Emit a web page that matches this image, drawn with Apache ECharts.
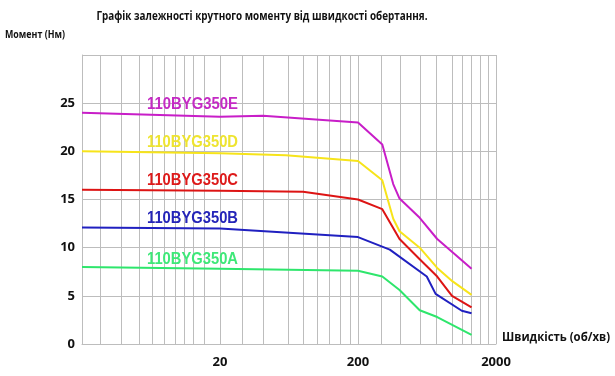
<!DOCTYPE html>
<html>
<head>
<meta charset="utf-8">
<script src="https://cdn.jsdelivr.net/npm/echarts@6/dist/echarts.min.js"></script>
<style>html,body{margin:0;padding:0;background:#fff}#c{width:615px;height:376px}</style>
</head>
<body>
<div id="c"></div>
<script>
// ---- data ----
var titleText = 'Графік залежності крутного моменту від швидкості обертання.';
var yName = 'Момент (Нм)';
var xName = 'Швидкість (об/хв)';
var xTickLabels = [20, 200, 2000];
var yTicks = [0, 5, 10, 15, 20, 25];

var namesSeries = ['110BYG350E', '110BYG350D', '110BYG350C', '110BYG350B', '110BYG350A'];

var speedE = [2, 20, 41, 200, 300, 360, 400, 560, 750, 1330];
var torqueE = [24.0, 23.6, 23.7, 23.0, 20.7, 16.6, 15.1, 13.1, 10.9, 7.8];

var speedD = [2, 20, 60, 200, 300, 360, 400, 560, 750, 970, 1330];
var torqueD = [20.0, 19.8, 19.6, 19.0, 17.0, 13.0, 11.7, 10.0, 7.9, 6.5, 5.1];

var speedC = [2, 20, 80, 200, 300, 400, 560, 750, 960, 1330];
var torqueC = [16.0, 15.9, 15.8, 15.0, 14.0, 10.9, 8.8, 7.0, 5.0, 3.8];

var speedB = [2, 20, 200, 340, 630, 730, 1130, 1330];
var torqueB = [12.1, 12.0, 11.1, 9.8, 7.0, 5.2, 3.45, 3.2];

var speedA = [2, 20, 200, 300, 400, 560, 750, 1330];
var torqueA = [8.0, 7.8, 7.6, 7.0, 5.6, 3.5, 2.8, 0.95];

// vertical grid lines (log paper)
var gridX = [2.73, 3.88, 5.18, 6.51, 7.9, 9.44, 11, 12.8, 15.3, 20,
             29, 41.2, 62.5, 80.3, 102, 124, 148, 175, 200,
             297, 408, 563, 743, 964, 1148, 1333, 1531, 1759, 2000];

// ---- styles ----
var lineColors = ['#c81ec8', '#f7e41a', '#dd1414', '#2020c0', '#2ee66c'];
var labelColors = ['#c42ac4', '#eee430', '#dd1a1a', '#2424b8', '#3ee878'];
var labelCenters = [104.5, 142.5, 180.5, 218.5, 259];

function zip(a, b) { return a.map(function (v, i) { return [v, b[i]]; }); }

var measureCtx = document.createElement('canvas').getContext('2d');
function fitText(text, font, width) {
  measureCtx.font = font;
  return width / measureCtx.measureText(text).width;
}

var chart = echarts.init(document.getElementById('c'), null, {renderer: 'canvas'});

var seriesData = [
  zip(speedE, torqueE), zip(speedD, torqueD), zip(speedC, torqueC),
  zip(speedB, torqueB), zip(speedA, torqueA)
];

var series = [{
  type: 'line',
  data: [],
  z: 1,
  silent: true,
  markLine: {
    silent: true,
    z: 1,
    symbol: ['none', 'none'],
    label: {show: false},
    animation: false,
    lineStyle: {color: '#bdbdbd', width: 1, type: 'solid'},
    data: gridX.map(function (v) { return {xAxis: v}; })
  }
}];
seriesData.forEach(function (d, i) {
  series.push({
    type: 'line',
    name: namesSeries[i],
    data: d,
    z: 3,
    symbol: 'none',
    lineStyle: {color: lineColors[i], width: 2},
    itemStyle: {color: lineColors[i]}
  });
});

var labelFont = 'bold 17px "Liberation Sans"';
var graphics = [];
var tFont = 'bold 13px "Open Sans"';
graphics.push({type: 'text', x: 262, y: 16, scaleX: fitText(titleText, tFont, 331),
  style: {text: titleText, font: tFont, fill: '#111', textAlign: 'center', textVerticalAlign: 'middle'}});
var yFont = 'bold 11px "Open Sans"';
graphics.push({type: 'text', x: 5, y: 35, scaleX: fitText(yName, yFont, 60),
  style: {text: yName, font: yFont, fill: '#111', textAlign: 'left', textVerticalAlign: 'middle'}});
var xFont = 'bold 12px "Open Sans"';
graphics.push({type: 'text', x: 502, y: 337.5, scaleX: fitText(xName, xFont, 108),
  style: {text: xName, font: xFont, fill: '#111', textAlign: 'left', textVerticalAlign: 'middle'}});
namesSeries.forEach(function (n, i) {
  graphics.push({type: 'text', x: 147, y: labelCenters[i], z: 10, scaleX: fitText(n, labelFont, 91),
    style: {text: n, font: labelFont, fill: labelColors[i], textAlign: 'left', textVerticalAlign: 'middle'}});
});

chart.setOption({
  animation: false,
  backgroundColor: '#fff',
  grid: {left: 82, right: 119, top: 55, bottom: 32, containLabel: false},
  xAxis: {
    type: 'log',
    logBase: 10,
    min: 2,
    max: 2000,
    axisLine: {show: true, lineStyle: {color: '#bdbdbd', width: 1}},
    axisTick: {show: false},
    splitLine: {show: false},
    minorSplitLine: {show: false},
    axisLabel: {
      customValues: xTickLabels,
      margin: 12,
      color: '#111',
      fontFamily: 'Open Sans',
      fontWeight: 'bold',
      fontSize: 13,
      formatter: function (v) { return String(Math.round(v)); }
    }
  },
  yAxis: {
    type: 'value',
    min: 0,
    max: 30,
    interval: 5,
    axisLine: {show: true, lineStyle: {color: '#bdbdbd', width: 1}},
    axisTick: {show: false},
    splitLine: {show: true, lineStyle: {color: '#bdbdbd', width: 1}},
    axisLabel: {
      margin: 7,
      color: '#111',
      fontFamily: 'Open Sans',
      fontWeight: 'bold',
      fontSize: 13,
      formatter: function (v) { return yTicks.indexOf(v) >= 0 ? String(v) : ''; }
    }
  },
  series: series,
  graphic: graphics
});
</script>
</body>
</html>
